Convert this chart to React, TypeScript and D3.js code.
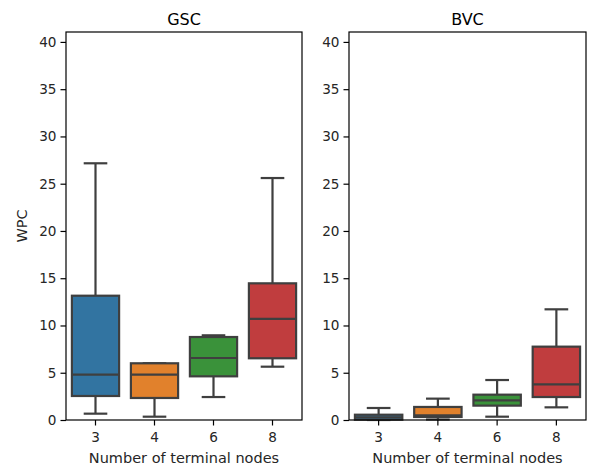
import React, { useRef, useEffect } from 'react';
import * as d3 from 'd3';

// categories and panel titles
const categories = ['3', '4', '6', '8'];
const panels = ['GSC', 'BVC'];
const colors = ['#3274a1', '#e1812c', '#3a923a', '#c03d3e'];
const yTicks = [0, 5, 10, 15, 20, 25, 30, 35, 40];

// box stats per category: [whiskerLow, q1, median, q3, whiskerHigh]
const gscStats = [
    [0.67, 2.54, 4.8, 13.15, 27.16],
    [0.35, 2.33, 4.8, 6.0, 6.0],
    [2.43, 4.62, 6.56, 8.78, 8.96],
    [5.64, 6.53, 10.69, 14.46, 25.6],
];
const bvcStats = [
    [0.0, 0.03, 0.28, 0.56, 1.27],
    [0.05, 0.32, 0.5, 1.38, 2.26],
    [0.35, 1.52, 2.08, 2.68, 4.23],
    [1.34, 2.43, 3.77, 7.76, 11.71],
];

const App = () => {
    const svgRef = useRef<SVGSVGElement>(null);
    const W = 594, H = 471;
    const top = 32, bottom = 420;
    const panelX = [[66, 302], [349, 586]];

    useEffect(() => {
        const svg = d3.select(svgRef.current);
        svg.selectAll('*').remove();
        const font = 'DejaVu Sans, sans-serif';
        const ink = '#3f3f3f';
        const lw = 2.2;

        const y = d3.scaleLinear().domain([0, 41.05]).range([bottom, top]);

        [gscStats, bvcStats].forEach((stats, pi) => {
            const [x0, x1] = panelX[pi];
            const x = d3.scaleBand().domain(categories).range([x0, x1]).paddingInner(0).paddingOuter(0);
            const g = svg.append('g');
            const bw = x.bandwidth() * 0.8;

            stats.forEach((s, i) => {
                const cx = x(categories[i])! + x.bandwidth() / 2;
                const [lo, q1, med, q3, hi] = s;
                const bg = g.append('g');
                // whiskers
                bg.append('line').attr('x1', cx).attr('x2', cx).attr('y1', y(q3)).attr('y2', y(hi))
                    .attr('stroke', ink).attr('stroke-width', lw);
                bg.append('line').attr('x1', cx).attr('x2', cx).attr('y1', y(q1)).attr('y2', y(lo))
                    .attr('stroke', ink).attr('stroke-width', lw);
                // caps
                [lo, hi].forEach(v => {
                    bg.append('line').attr('x1', cx - bw / 4).attr('x2', cx + bw / 4)
                        .attr('y1', y(v)).attr('y2', y(v))
                        .attr('stroke', ink).attr('stroke-width', lw);
                });
                // box
                bg.append('rect').attr('x', cx - bw / 2).attr('width', bw)
                    .attr('y', y(q3)).attr('height', y(q1) - y(q3))
                    .attr('fill', colors[i]).attr('stroke', ink).attr('stroke-width', lw);
                bg.append('line').attr('x1', cx - bw / 2).attr('x2', cx + bw / 2)
                    .attr('y1', y(med)).attr('y2', y(med))
                    .attr('stroke', ink).attr('stroke-width', lw);
            });

            // frame
            g.append('rect').attr('x', x0).attr('y', top).attr('width', x1 - x0).attr('height', bottom - top)
                .attr('fill', 'none').attr('stroke', '#000').attr('stroke-width', 1.2);

            // axes
            const yAxis = d3.axisLeft(y).tickValues(yTicks).tickSize(5.5).tickPadding(4);
            const ya = svg.append('g').attr('transform', `translate(${x0},0)`).call(yAxis);
            const xAxis = d3.axisBottom(x).tickSize(5.5).tickPadding(7);
            const xa = svg.append('g').attr('transform', `translate(0,${bottom})`).call(xAxis);
            [ya, xa].forEach(a => {
                a.select('.domain').remove();
                a.selectAll('line').attr('stroke', '#000').attr('stroke-width', 1.2);
                a.selectAll('text').attr('font-family', font).attr('font-size', 13.6).attr('fill', '#262626');
            });

            svg.append('text').attr('x', (x0 + x1) / 2).attr('y', 25).attr('text-anchor', 'middle')
                .attr('font-family', font).attr('font-size', 16).attr('fill', '#000').text(panels[pi]);
            svg.append('text').attr('x', (x0 + x1) / 2).attr('y', 463).attr('text-anchor', 'middle')
                .attr('font-family', font).attr('font-size', 14.5).attr('fill', '#262626').text('Number of terminal nodes');
        });

        svg.append('text').attr('transform', `translate(27,${(top + bottom) / 2}) rotate(-90)`)
            .attr('text-anchor', 'middle').attr('font-family', font).attr('font-size', 14.5)
            .attr('fill', '#262626').text('WPC');
    }, []);

    return (
        <svg ref={svgRef} width={W} height={H}
            style={{ position: 'absolute', left: 0, top: 0, background: '#fff' }} />
    );
};

export default App;
